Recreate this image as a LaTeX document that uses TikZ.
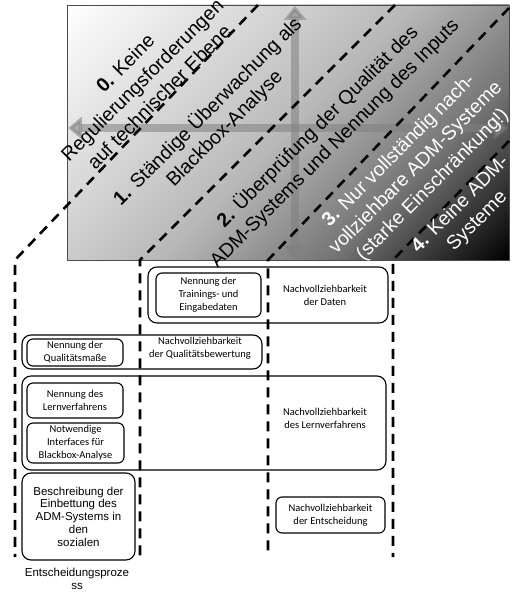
\documentclass[tikz,border=0pt]{standalone}
\usepackage{fontspec}
\setmainfont{Liberation Sans}
\newfontfamily\calibrifont{Carlito}
\usetikzlibrary{arrows.meta}

\pgfdeclareverticalshading{diagfade}{100bp}{color(0bp)=(black); color(14.64bp)=(black);
  color(32.33bp)=(black!55); color(50bp)=(black!28); color(85.36bp)=(white); color(100bp)=(white)}

\tikzset{
  stageline/.style={line width=2.6pt, dash pattern=on 10pt off 7pt},
  crossarrow/.style={line width=8pt, draw=gray, opacity=0.55,
    {Triangle[width=22pt,length=14pt]}-{Triangle[width=22pt,length=14pt]}},
  level/.style={rotate=45, align=center, inner sep=0pt, font=\fontsize{19.5}{24}\selectfont},
  item/.style={draw, rounded corners=6pt, line width=1.1pt, align=center, inner sep=1pt,
    font=\calibrifont\fontsize{10.5}{13}\selectfont},
  group/.style={draw, rounded corners=9pt, line width=1.1pt, inner sep=0pt},
  plain/.style={align=center, inner sep=0pt, font=\calibrifont\fontsize{10.5}{13}\selectfont},
}

\begin{document}
\begin{tikzpicture}[x=1pt,y=-1pt]
    \useasboundingbox (0,0) rectangle (523,599);
    % shaded field with the stages
    \shade[shading=diagfade, shading angle=45] (67,5) rectangle (509,260);
    \draw[gray!60!black, line width=0.8pt] (67,5) rectangle (509,260);
    \coordinate (west) at (68,128);
    \coordinate (east) at (508,128);
    \coordinate (north) at (295,6);
    \coordinate (south) at (295,259);
    \draw[crossarrow] (west) -- (east);
    \draw[crossarrow] (north) -- (south);

    % stage borders
    \draw[stageline] (258,5) -- (15,260) -- (15,557);
    \draw[stageline] (395,5) -- (140,260) -- (140,557);
    \draw[stageline] (509,8) -- (268,260) -- (268,557);
    \draw[stageline] (509,141) -- (393,260) -- (393,557);

    % stage labels
    \node[level] (lvl0) at (142,80) {\textbf{0.} Keine\\Regulierungsforderungen\\auf technischer Ebene};
    \node[level] (lvl1) at (216,120) {\textbf{1.} Ständige Überwachung als\\Blackbox-Analyse};
    \node[level] (lvl2) at (326,135) {\textbf{2.} Überprüfung der Qualität des\\ADM-Systems und Nennung des Inputs};
    \node[level, white] (lvl3) at (416,168) {\textbf{3.} Nur vollständig nach-\\vollziehbare ADM-Systeme\\(starke Einschränkung!)};
    \node[level, white] (lvl4) at (469,213) {\textbf{4.} Keine ADM-\\Systeme};

    % requirements
    \node[group, minimum width=240pt, minimum height=56pt] (grpdaten) at (268,295) {};
    \node[item, minimum width=105pt, minimum height=44pt] (trainings) at (208.5,295) {Nennung der\\Trainings- und\\Eingabedaten};
    \node[plain] (daten) at (325,295) {Nachvollziehbarkeit\\der Daten};

    \node[group, minimum width=240pt, minimum height=34pt] (grpquali) at (142,352) {};
    \node[item, minimum width=96pt, minimum height=27pt] (qualimasse) at (75,352.5) {Nennung der\\Qualitätsmaße};
    \node[plain] (qualibew) at (200,348) {Nachvollziehbarkeit\\der Qualitätsbewertung};

    \node[group, minimum width=364pt, minimum height=94pt] (grplern) at (204,423) {};
    \node[item, minimum width=96pt, minimum height=35pt] (lernnennung) at (75,400.5) {Nennung des\\Lernverfahrens};
    \node[item, minimum width=97pt, minimum height=40pt] (interfaces) at (75.5,443) {Notwendige\\Interfaces für\\Blackbox-Analyse};
    \node[plain] (lernnach) at (325,418) {Nachvollziehbarkeit\\des Lernverfahrens};

    \node[draw, rounded corners=9pt, line width=1.1pt, minimum width=113pt, minimum height=87pt,
      align=center, font=\fontsize{11.5}{12.7}\selectfont] (einbettung) at (78.5,516.5)
      {Beschreibung der\\Einbettung des\\ADM-Systems in\\den\\sozialen};
    \node[align=center, inner sep=0pt, font=\fontsize{11.5}{12.7}\selectfont] (prozess) at (77,579) {Entscheidungsproze\\ss};

    \node[item, minimum width=109pt, minimum height=36pt] (entscheidung) at (330.5,515) {Nachvollziehbarkeit\\der Entscheidung};
\end{tikzpicture}
\end{document}
